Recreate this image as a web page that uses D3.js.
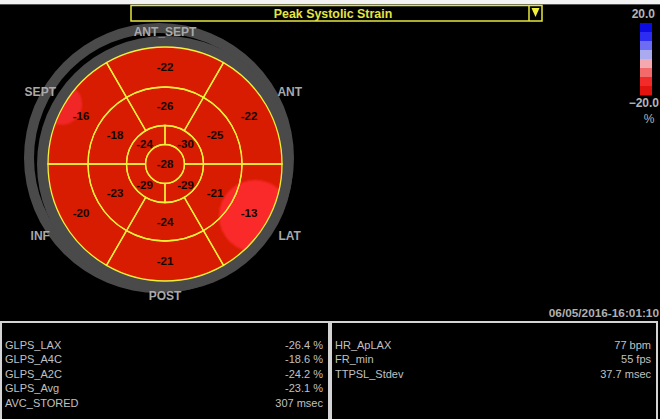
<!DOCTYPE html>
<html>
<head>
<meta charset="utf-8">
<script src="https://cdn.jsdelivr.net/npm/d3@7"></script>
<style>
  html, body { margin: 0; padding: 0; background: #000; }
  svg { display: block; font-family: Arial, "Liberation Sans", sans-serif; }
</style>
</head>
<body>
<div id="chart"></div>
<script>
// walls, clockwise from the top of the bullseye
const wallLabels = ["ANT_SEPT", "ANT", "LAT", "POST", "INF", "SEPT"];
const basalValues = [-22, -22, -13, -21, -20, -16];
const midValues = [-26, -25, -21, -24, -23, -18];
// apical ring: upper-right, lower-right, lower-left, upper-left
const apicalValues = [-30, -29, -29, -24];
const apexValues = [-28];

const legendSteps = [17.5, 12.5, 7.5, 2.5, -2.5, -7.5, -12.5, -17.5];
const legendColors = ["#0c0ce2", "#2c2cf2", "#6c6cf4", "#aaaaf0", "#f4a9b0", "#f26a6a", "#f22a28", "#e21410"];

const leftLabels = ["GLPS_LAX", "GLPS_A4C", "GLPS_A2C", "GLPS_Avg", "AVC_STORED"];
const leftValues = [-26.4, -18.6, -24.2, -23.1, 307];
const leftUnits = ["%", "%", "%", "%", "msec"];
const rightLabels = ["HR_ApLAX", "FR_min", "TTPSL_Stdev"];
const rightValues = [77, 55, 37.7];
const rightUnits = ["bpm", "fps", "msec"];

const title = "Peak Systolic Strain";
const timestamp = "06/05/2016-16:01:10";

// 1. Dimensions
const width = 660;
const height = 419;
const cx = 165, cy = 164;
const rings = [0, 19.5, 38.5, 77, 117];

const svg = d3.select("#chart")
  .append("svg")
    .attr("width", width)
    .attr("height", height);

svg.append("rect")
  .attr("width", width).attr("height", height)
  .attr("fill", "#000");

// white strip at the very top
svg.append("rect")
  .attr("width", width).attr("height", 4)
  .attr("fill", "#f2f2f2");
svg.append("rect")
  .attr("y", 4).attr("width", width).attr("height", 1)
  .attr("fill", "#555");

// 2. Title bar
const bar = svg.append("g");
bar.append("rect")
  .attr("x", 131).attr("y", 5.5)
  .attr("width", 411).attr("height", 15.5)
  .attr("fill", "#000")
  .attr("stroke", "#e6e63c")
  .attr("stroke-width", 1.5);
bar.append("line")
  .attr("x1", 529).attr("x2", 529)
  .attr("y1", 5.5).attr("y2", 21)
  .attr("stroke", "#e6e63c")
  .attr("stroke-width", 1.5);
bar.append("path")
  .attr("d", "M531.5,8 L539.5,8 L535.5,17 Z")
  .attr("fill", "#f0f03c");
bar.append("text")
  .attr("x", 333).attr("y", 13.5)
  .attr("dy", "0.36em")
  .attr("text-anchor", "middle")
  .attr("font-size", 12.4)
  .attr("font-weight", "bold")
  .attr("fill", "#e4e444")
  .text(title);

// 3. Gray rings behind the bullseye
const g = svg.append("g")
  .attr("transform", `translate(${cx},${cy})`);

svg.insert("path", "g")
  .attr("transform", `translate(${cx - 6},${cy - 6})`)
  .attr("d", d3.arc()({innerRadius: 125, outerRadius: 135, startAngle: 0, endAngle: 2 * Math.PI}))
  .attr("fill", "#4a4a4a");

g.append("circle")
  .attr("r", 128)
  .attr("fill", "#4a4a4a");

// 4. Scales
const pie = d3.pie().sort(null).value(() => 1);
const blobRadius = d3.scaleLinear().domain([-20, -13]).range([0, 36]).clamp(true);
const blobColor = d3.scaleLinear().domain([-17, -13]).range(["#ee2626", "#fa2c2c"]).clamp(true);
const baseRed = "#d81c02";
const lineYellow = "#f2f238";

const deg = Math.PI / 180;
const ringDefs = [
  {values: basalValues, inner: rings[3], outer: rings[4], start: -30},
  {values: midValues, inner: rings[2], outer: rings[3], start: -30},
  {values: apicalValues, inner: rings[1], outer: rings[2], start: 0},
  {values: apexValues, inner: rings[0], outer: rings[1], start: 0}
];

const segments = [];
ringDefs.forEach((ring, ri) => {
  pie.startAngle(ring.start * deg).endAngle((ring.start + 360) * deg)(ring.values)
    .forEach(p => segments.push({
      value: p.data, ring: ri,
      startAngle: p.startAngle, endAngle: p.endAngle,
      innerRadius: ring.inner, outerRadius: ring.outer
    }));
});

const arc = d3.arc();

// 5. Draw the bullseye
g.append("circle")
  .attr("r", rings[4])
  .attr("fill", baseRed);

svg.append("defs").call(defs => {
  defs.append("clipPath").attr("id", "clip-bull")
    .append("circle").attr("cx", cx).attr("cy", cy).attr("r", rings[4]);
  defs.append("filter").attr("id", "soft")
    .append("feGaussianBlur").attr("stdDeviation", 1.2);
});

// lighter spots where the strain is weaker
const blobs = svg.append("g")
  .attr("clip-path", "url(#clip-bull)")
  .append("g")
  .attr("transform", `translate(${cx},${cy})`)
  .attr("filter", "url(#soft)");

segments.filter(d => d.ring === 0 && d.value > -17).forEach(d => {
  const a = (d.startAngle + d.endAngle) / 2;
  const br = blobRadius(d.value);
  const rc = 140 - br;
  blobs.append("circle")
    .attr("cx", rc * Math.sin(a))
    .attr("cy", -rc * Math.cos(a))
    .attr("r", br)
    .attr("fill", blobColor(d.value));
});

const bull = svg.append("g")
  .attr("transform", `translate(${cx},${cy})`);

bull.selectAll("path.seg")
  .data(segments)
  .join("path")
    .attr("class", "seg")
    .attr("d", arc)
    .attr("fill", "none")
    .attr("stroke", lineYellow)
    .attr("stroke-width", 1.3);

bull.selectAll("text.val")
  .data(segments)
  .join("text")
    .attr("class", "val")
    .attr("transform", d => d.ring === 3 ? null : `translate(${arc.centroid(d)})`)
    .attr("dy", "0.36em")
    .attr("text-anchor", "middle")
    .attr("font-size", 11.5)
    .attr("font-weight", "bold")
    .attr("fill", "#140400")
    .text(d => d.value);

// wall labels
bull.selectAll("text.wall")
  .data(pie.startAngle(-30 * deg).endAngle(330 * deg)(wallLabels))
  .join("text")
    .attr("class", "wall")
    .attr("transform", (d, i) => {
      const a = (d.startAngle + d.endAngle) / 2;
      const r = i % 3 === 0 ? 132 : 144;
      return `translate(${r * Math.sin(a)},${-r * Math.cos(a)})`;
    })
    .attr("dy", "0.36em")
    .attr("text-anchor", "middle")
    .attr("font-size", 12)
    .attr("font-weight", "bold")
    .attr("fill", "#a9a9a9")
    .text(d => d.data);

// 6. Colour legend
const legendY = d3.scaleBand()
  .domain(legendSteps)
  .range([23, 95]);

svg.append("g")
  .selectAll("rect")
  .data(legendSteps)
  .join("rect")
    .attr("x", 640)
    .attr("y", d => legendY(d))
    .attr("width", 12)
    .attr("height", legendY.bandwidth() + 0.5)
    .attr("fill", (d, i) => legendColors[i]);

const legendText = svg.append("g")
  .attr("font-size", 12)
  .attr("font-weight", "bold")
  .attr("fill", "#b4b4b4")
  .attr("text-anchor", "end");
legendText.append("text").attr("x", 655).attr("y", 14).attr("dy", "0.36em")
  .text(d3.format(".1f")(d3.max(legendSteps) + 2.5));
legendText.append("text").attr("x", 659).attr("y", 103).attr("dy", "0.36em")
  .text(d3.format(".1f")(d3.min(legendSteps) - 2.5));
legendText.append("text").attr("x", 649).attr("y", 119).attr("dy", "0.36em")
  .attr("text-anchor", "middle").attr("font-weight", "normal")
  .text("%");

// timestamp
svg.append("text")
  .attr("x", 659).attr("y", 313)
  .attr("dy", "0.36em")
  .attr("text-anchor", "end")
  .attr("font-size", 11.8)
  .attr("font-weight", "bold")
  .attr("fill", "#b0b0b0")
  .text(timestamp);

// 7. Bottom panels
const panels = [
  {x: 1, w: 328, labels: leftLabels, values: leftValues, units: leftUnits},
  {x: 331, w: 326, labels: rightLabels, values: rightValues, units: rightUnits}
];
const rowY = d3.scaleLinear().domain([0, 1]).range([345, 359.4]);

panels.forEach(p => {
  const panel = svg.append("g");
  panel.append("rect")
    .attr("x", p.x).attr("y", 322)
    .attr("width", p.w).attr("height", 120)
    .attr("fill", "#000")
    .attr("stroke", "#d4d4d4")
    .attr("stroke-width", 2);
  panel.selectAll("text.lab")
    .data(p.labels)
    .join("text")
      .attr("class", "lab")
      .attr("x", p.x + 4)
      .attr("y", (d, i) => rowY(i))
      .attr("dy", "0.36em")
      .attr("font-size", 11)
      .attr("fill", "#c0c0c0")
      .text(d => d);
  panel.selectAll("text.num")
    .data(p.values)
    .join("text")
      .attr("class", "num")
      .attr("x", p.x + p.w - 6)
      .attr("y", (d, i) => rowY(i))
      .attr("dy", "0.36em")
      .attr("text-anchor", "end")
      .attr("font-size", 11)
      .attr("fill", "#c0c0c0")
      .text((d, i) => `${d} ${p.units[i]}`);
});
</script>
</body>
</html>
